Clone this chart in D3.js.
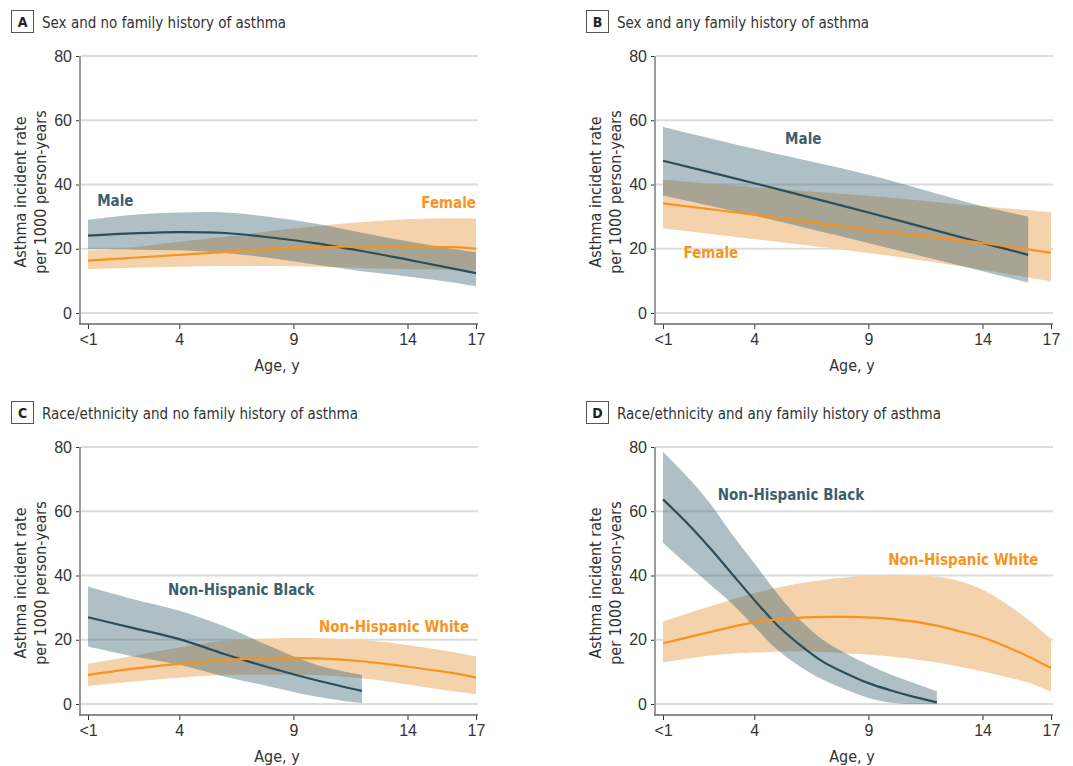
<!DOCTYPE html>
<html lang="en">
<head>
<meta charset="UTF-8">
<title>Asthma incident rate by age</title>
<script src="https://cdn.jsdelivr.net/npm/d3@7"></script>
<style>
  body { margin: 0; background: #fff; }
  svg { display: block; font-family: "DejaVu Sans Condensed", "Liberation Sans Narrow", "Noto Sans", sans-serif; }
  .grid line { stroke: #dcdcdc; stroke-width: 2; }
  .tick-label { fill: #333; font-size: 16px; }
  .ttl { fill: #333; font-size: 15px; }
  .ytl { fill: #333; font-size: 16px; }
  .lbl { font-size: 15px; font-weight: bold; }
</style>
</head>
<body>
<div id="chart"></div>
<script>
// axis ticks
var ageTicks = [0, 4, 9, 14, 17];
var ageTickLabels = ["<1", "4", "9", "14", "17"];
var rateTicks = [0, 20, 40, 60, 80];

// A: sex, no family history
var agesA = [0, 2, 4, 6, 8, 10, 12, 14, 16, 17];
var maleA = [24.1, 24.8, 25.2, 24.9, 23.5, 21.7, 19.3, 16.6, 13.8, 12.4];
var maleALo = [19.9, 19.7, 19.5, 18.7, 17.1, 15.0, 13.0, 11.4, 9.5, 8.3];
var maleAHi = [29.0, 30.6, 31.3, 31.3, 29.9, 27.8, 25.0, 22.3, 19.9, 18.9];
var femaleA = [16.3, 17.2, 18.1, 19.0, 19.8, 20.4, 20.7, 20.7, 20.5, 20.0];
var femaleALo = [13.7, 14.1, 14.4, 14.6, 14.6, 14.4, 14.0, 13.6, 13.4, 13.3];
var femaleAHi = [19.5, 20.5, 22.2, 23.7, 25.5, 27.0, 28.3, 29.2, 29.5, 29.4];

// B: sex, any family history
var agesBMale = [0, 4, 9, 14, 16];
var maleB = [47.4, 40.4, 31.3, 21.8, 18.1];
var maleBLo = [36.6, 30.3, 21.8, 13.0, 9.5];
var maleBHi = [57.9, 51.1, 43.0, 33.2, 30.0];
var agesBFemale = [0, 4, 9, 14, 17];
var femaleB = [34.1, 30.6, 25.9, 21.8, 18.7];
var femaleBLo = [26.4, 23.0, 18.7, 13.5, 9.8];
var femaleBHi = [41.5, 39.2, 36.5, 33.2, 31.4];

// C: race/ethnicity, no family history
var agesCBlack = [0, 2, 4, 6, 8, 10, 12];
var blackC = [27.0, 23.6, 20.2, 15.5, 11.2, 7.4, 4.1];
var blackCLo = [17.9, 14.8, 12.2, 8.5, 5.4, 2.3, 0.2];
var blackCHi = [36.6, 32.6, 29.0, 24.1, 17.9, 12.2, 9.0];
var agesCWhite = [0, 2, 4, 6, 8, 10, 12, 14, 16, 17];
var whiteC = [9.0, 11.0, 12.5, 13.7, 14.3, 14.2, 13.3, 11.6, 9.6, 8.2];
var whiteCLo = [5.6, 7.0, 8.2, 9.0, 9.2, 9.0, 8.0, 6.1, 4.0, 3.1];
var whiteCHi = [12.5, 15.0, 17.6, 19.7, 20.4, 20.5, 19.9, 18.4, 16.2, 14.8];

// D: race/ethnicity, any family history
var agesDBlack = [0, 1, 2, 3, 4, 5, 6, 7, 8, 9, 10, 11, 12];
var blackD = [63.7, 56.7, 49.0, 40.7, 32.4, 24.6, 18.4, 13.2, 9.6, 6.5, 4.2, 2.2, 0.5];
var blackDLo = [50.2, 43.8, 37.6, 31.4, 24.1, 16.9, 11.7, 7.6, 4.5, 1.9, 0.4, 0, 0];
var blackDHi = [78.5, 71.2, 63.0, 53.1, 43.8, 34.5, 26.2, 20.0, 15.8, 12.2, 9.1, 6.5, 3.9];
var agesDWhite = [0, 2, 4, 6, 8, 10, 12, 13, 14, 15, 16, 17];
var whiteD = [18.9, 22.3, 25.4, 26.9, 27.1, 26.5, 24.4, 22.6, 20.7, 18.0, 14.8, 11.2];
var whiteDLo = [12.9, 15.0, 16.0, 16.4, 15.8, 14.8, 12.9, 11.6, 10.2, 8.5, 6.7, 3.9];
var whiteDHi = [25.7, 30.3, 34.5, 37.6, 39.4, 40.2, 39.6, 38.2, 35.6, 31.4, 26.2, 20.2];

var dark = "#2b4e5c", bandDark = "rgb(52,95,112)";
var orange = "#f7941d", bandOrange = "#f3d2ac";

function series(name, ages, est, lo, hi) {
  return { name: name, rows: ages.map(function (a, i) { return { age: a, est: est[i], lo: lo[i], hi: hi[i] }; }) };
}

var panels = [
  { key: "A", title: "Sex and no family history of asthma", dx: 0, dy: 0,
    orange: series("Female", agesA, femaleA, femaleALo, femaleAHi),
    dark: series("Male", agesA, maleA, maleALo, maleAHi),
    orangeLbl: [17, 32.7, "end"], darkLbl: [0.4, 33.3, "start"] },
  { key: "B", title: "Sex and any family history of asthma", dx: 575, dy: 0,
    orange: series("Female", agesBFemale, femaleB, femaleBLo, femaleBHi),
    dark: series("Male", agesBMale, maleB, maleBLo, maleBHi),
    orangeLbl: [0.9, 17.1, "start"], darkLbl: [5.35, 52.6, "start"] },
  { key: "C", title: "Race/ethnicity and no family history of asthma", dx: 0, dy: 391,
    orange: series("Non-Hispanic White", agesCWhite, whiteC, whiteCLo, whiteCHi),
    dark: series("Non-Hispanic Black", agesCBlack, blackC, blackCLo, blackCHi),
    orangeLbl: [16.7, 22.4, "end"], darkLbl: [3.5, 33.9, "start"] },
  { key: "D", title: "Race/ethnicity and any family history of asthma", dx: 575, dy: 391,
    orange: series("Non-Hispanic White", agesDWhite, whiteD, whiteDLo, whiteDHi),
    dark: series("Non-Hispanic Black", agesDBlack, blackD, blackDLo, blackDHi),
    orangeLbl: [16.45, 43.3, "end"], darkLbl: [2.4, 63.5, "start"] }
];

var width = 1073, height = 766;
var svg = d3.select("#chart").append("svg").attr("width", width).attr("height", height);

var x = d3.scaleLinear().domain([0, 17]).range([88, 476]);
var y = d3.scaleLinear().domain([0, 80]).range([313, 56]);
var axisX = 80, axisY = 324;

var curve = d3.curveCatmullRom.alpha(0.5);
var area = d3.area().curve(curve)
  .x(function (d) { return x(d.age); })
  .y0(function (d) { return y(d.lo); })
  .y1(function (d) { return y(d.hi); });
var line = d3.line().curve(curve)
  .x(function (d) { return x(d.age); })
  .y(function (d) { return y(d.est); });

panels.forEach(function (p) {
  var g = svg.append("g").attr("transform", "translate(" + p.dx + "," + p.dy + ")");

  // panel letter + title
  g.append("rect").attr("x", 11.5).attr("y", 10.5).attr("width", 22).attr("height", 22)
    .attr("fill", "none").attr("stroke", "#555").attr("stroke-width", 1);
  g.append("text").attr("x", 22.5).attr("y", 27).attr("text-anchor", "middle")
    .style("font-size", "14px").style("font-weight", "bold").attr("fill", "#222").text(p.key);
  g.append("text").attr("class", "ttl").attr("x", 42).attr("y", 27.5).text(p.title);

  // gridlines
  g.append("g").attr("class", "grid").selectAll("line").data(rateTicks).join("line")
    .attr("x1", axisX + 1).attr("x2", 478)
    .attr("y1", function (d) { return y(d); }).attr("y2", function (d) { return y(d); });

  // y axis
  var yAxis = d3.axisLeft(y).tickValues(rateTicks).tickSize(4).tickPadding(4);
  var ya = g.append("g").attr("transform", "translate(" + axisX + ",0)").call(yAxis);
  ya.select(".domain").remove();
  ya.append("line").attr("x1", 0).attr("x2", 0).attr("y1", y(80)).attr("y2", axisY)
    .attr("stroke", "#9a9a9a").attr("stroke-width", 2);
  ya.selectAll(".tick line").attr("stroke", "#333");
  ya.selectAll(".tick text").attr("class", "tick-label").style("font-family", null).style("font-size", null);

  // x axis
  var xAxis = d3.axisBottom(x).tickValues(ageTicks).tickSize(5).tickPadding(5)
    .tickFormat(function (d, i) { return ageTickLabels[i]; });
  var xa = g.append("g").attr("transform", "translate(0," + axisY + ")").call(xAxis);
  xa.select(".domain").remove();
  xa.append("line").attr("x1", axisX - 1).attr("x2", 478).attr("y1", 0).attr("y2", 0)
    .attr("stroke", "#666").attr("stroke-width", 1.5);
  xa.selectAll(".tick line").attr("stroke", "#333");
  xa.selectAll(".tick text").attr("class", "tick-label").style("font-family", null).style("font-size", null);

  // axis titles
  g.append("text").attr("class", "ytl").attr("x", (axisX + 478) / 2 - 2).attr("y", 371)
    .attr("text-anchor", "middle").text("Age, y");
  var yt = g.append("text").attr("class", "ytl").attr("text-anchor", "middle")
    .attr("transform", "translate(0," + ((y(80) + axisY) / 2 + 2) + ") rotate(-90)");
  yt.append("tspan").attr("x", 0).attr("y", 20).attr("dy", "0.35em").text("Asthma incident rate");
  yt.append("tspan").attr("x", 0).attr("y", 40).attr("dy", "0.35em").text("per 1000 person-years");

  // bands
  g.append("path").datum(p.orange.rows).attr("d", area).attr("fill", bandOrange);
  g.append("path").datum(p.dark.rows).attr("d", area).attr("fill", bandDark).attr("fill-opacity", 0.4);

  // estimate lines
  g.append("path").datum(p.dark.rows).attr("d", line).attr("fill", "none")
    .attr("stroke", dark).attr("stroke-width", 2.2);
  g.append("path").datum(p.orange.rows).attr("d", line).attr("fill", "none")
    .attr("stroke", orange).attr("stroke-width", 2.2);

  // series labels
  g.append("text").attr("class", "lbl").attr("fill", "#3b5f6c")
    .attr("x", x(p.darkLbl[0])).attr("y", y(p.darkLbl[1])).attr("text-anchor", p.darkLbl[2])
    .text(p.dark.name);
  g.append("text").attr("class", "lbl").attr("fill", orange)
    .attr("x", x(p.orangeLbl[0])).attr("y", y(p.orangeLbl[1])).attr("text-anchor", p.orangeLbl[2])
    .text(p.orange.name);
});
</script>
</body>
</html>
